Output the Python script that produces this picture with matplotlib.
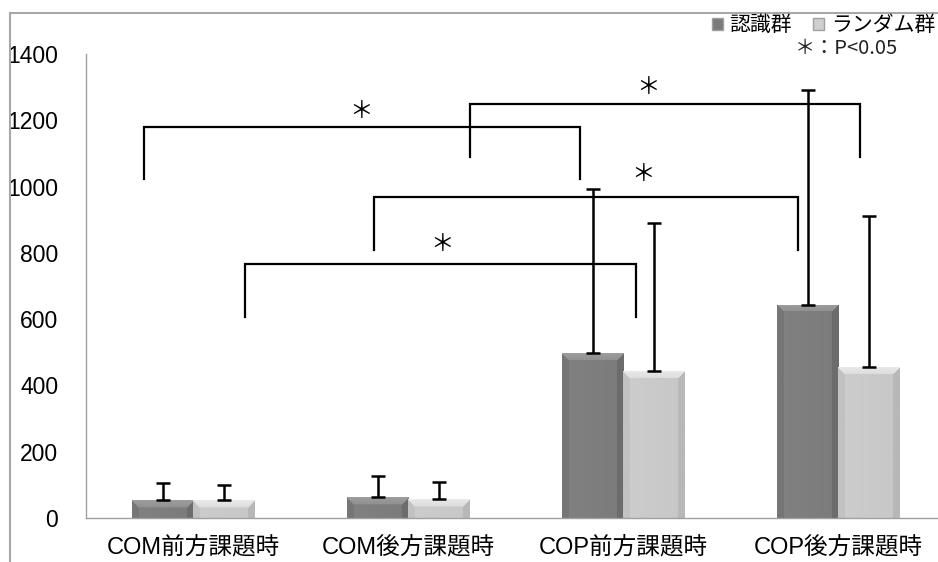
import matplotlib
matplotlib.use('Agg')
import matplotlib.pyplot as plt
from matplotlib.patches import Patch
from matplotlib.lines import Line2D
import numpy as np

plt.rcParams['font.family'] = ['Liberation Sans', 'Noto Sans CJK JP', 'DejaVu Sans']

# data
categories = ['COM前方課題時', 'COM後方課題時', 'COP前方課題時', 'COP後方課題時']
ninshiki = [54, 63, 497, 643]        # 認識群 means
ninshiki_err = [51, 64, 495, 647]    # upper error (SD)
random_grp = [54, 57, 443, 455]      # ランダム群 means
random_err = [46, 51, 446, 455]

# significance brackets: (x left, x right, y top, y bottom of legs, star x, star y)
brackets = [
    (-0.232, 1.80, 1179, 1022, 0.78, 1226),
    (1.285, 3.10, 1248, 1088, 2.116, 1298),
    (0.84, 2.81, 968, 808, 2.09, 1036),
    (0.241, 2.06, 766, 606, 1.155, 825),
]

W, H = 938, 562
fig = plt.figure(figsize=(W / 100, H / 100), dpi=100)
ax = fig.add_axes([86 / W, 1 - 518 / H, 1 - 86 / W, (518 - 54) / H])

x = np.arange(len(categories))
bw = 0.288


def shade(nx, ny, base, bev=7):
    # bevelled bar look: lighter top face, darker side edges
    img = np.zeros((ny, nx))
    for i in range(ny):
        for j in range(nx):
            r = nx - 1 - j
            v = base + 6 * (0.5 - j / nx)
            if i < bev and i <= j and i <= r:
                v = base + 30 - 12 * i / bev
            elif j < bev and j < i:
                v = base - 8
            elif r < bev and r < i:
                v = base - 18
            img[i, j] = v
    img = np.clip(img, 0, 255) / 255.0
    return np.dstack([img, img, img])


def draw_bars(xs, vals, errs, base, col):
    bars = ax.bar(xs, vals, bw, color=col, edgecolor='none', zorder=2)
    for b in bars:
        x0, w, h = b.get_x(), b.get_width(), b.get_height()
        ny = max(int(h * 0.3317), 2)
        im = ax.imshow(shade(62, ny, base), extent=(x0, x0 + w, 0, h),
                       aspect='auto', zorder=2.5, interpolation='bilinear')
        im.set_clip_path(b)
    ax.errorbar(xs, vals, yerr=[np.zeros(len(vals)), errs], fmt='none',
                ecolor='black', elinewidth=1.8, capsize=5, capthick=1.8, zorder=3)
    return bars


draw_bars(x - bw / 2, ninshiki, ninshiki_err, 126, '#7e7e7e')
draw_bars(x + bw / 2, random_grp, random_err, 202, '#cacaca')

for xl, xr, yt, yb, sx, sy in brackets:
    ax.plot([xl, xl, xr, xr], [yb, yt, yt, yb], color='black', lw=1.6,
            zorder=4, solid_joinstyle='miter')
    ax.text(sx, sy, '＊', ha='center', va='center', fontsize=17,
            family=['Noto Sans CJK JP'], zorder=5)

ax.set_xlim(-0.5, 3.5 - 8 / 215.5)
ax.set_ylim(0, 1400)
ax.set_yticks(range(0, 1401, 200))
ax.set_xticks(x)
ax.set_xticklabels(categories, fontsize=17)
ax.tick_params(axis='y', length=0, pad=20, labelsize=16.5)
ax.tick_params(axis='x', length=0, pad=13)
for s in ['top', 'right']:
    ax.spines[s].set_visible(False)
for s in ['left', 'bottom']:
    ax.spines[s].set_color('#a0a0a0')
    ax.spines[s].set_linewidth(1.0)

handles = [Patch(facecolor='#7a7a7a', edgecolor='#a0a0a0'),
           Patch(facecolor='#cfcfcf', edgecolor='#a0a0a0')]
fig.legend(handles, ['認識群', 'ランダム群'], loc='upper right',
           bbox_to_anchor=(1.008, 1 - 4 / H), ncol=2, frameon=False,
           prop={'family': ['Noto Sans CJK JP'], 'size': 15},
           handlelength=0.55, handleheight=0.55, handletextpad=0.3,
           columnspacing=1.0, borderaxespad=0.1)
fig.text(795 / W, 1 - 48 / H, '＊：P<0.05', ha='left', va='center',
         fontsize=14.5, family=['Noto Sans CJK JP'], color='#222222')

# outer chart border (partly cropped in the original)
fig.add_artist(Line2D([10 / W, 1], [1 - 13 / H, 1 - 13 / H], color='#a8a8a8', lw=1.5))
fig.add_artist(Line2D([10 / W, 10 / W], [0, 1 - 13 / H], color='#a8a8a8', lw=1.5))

fig.savefig('out.png', dpi=100)
